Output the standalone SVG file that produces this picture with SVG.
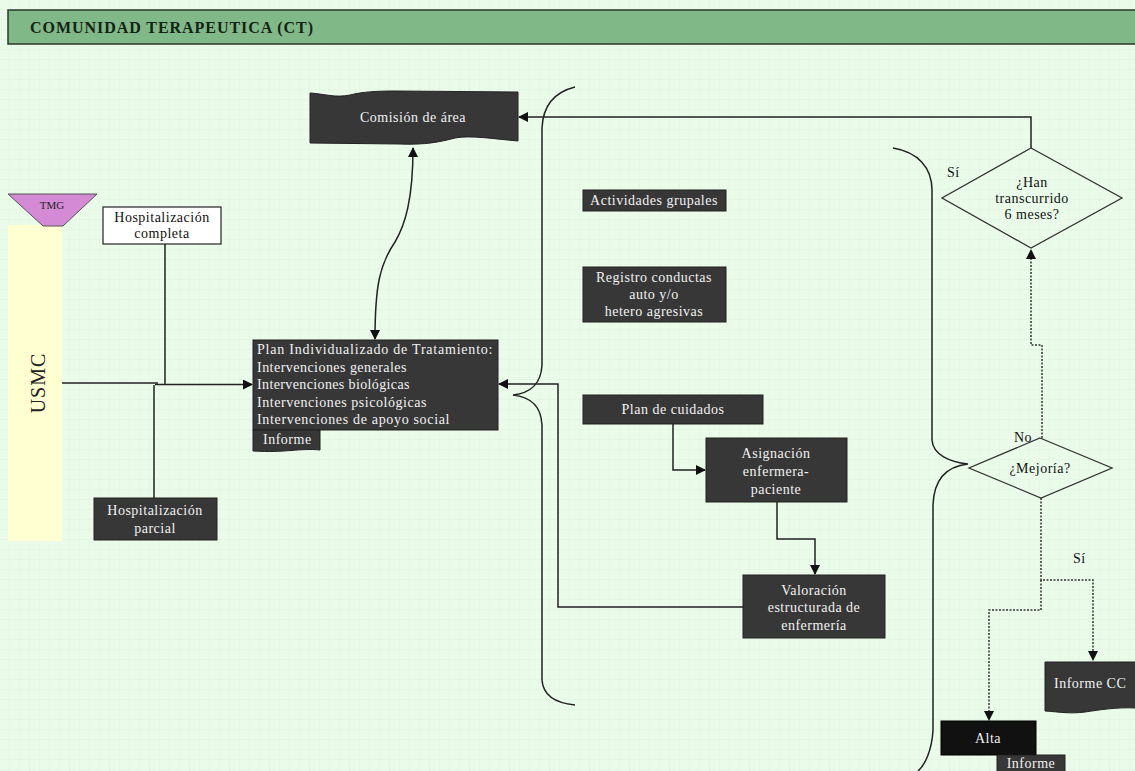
<svg xmlns="http://www.w3.org/2000/svg" width="1135" height="771" viewBox="0 0 1135 771">
<defs>
<pattern id="grid" width="10" height="10" patternUnits="userSpaceOnUse">
<rect width="10" height="10" fill="#eafbea"/>
<path d="M10 0V10M0 10H10" stroke="#d8ecd8" stroke-width="1" stroke-dasharray="1 1"/>
</pattern>
<marker id="ah" viewBox="0 0 10 10" refX="9" refY="5" markerWidth="10" markerHeight="10" markerUnits="userSpaceOnUse" orient="auto-start-reverse">
<path d="M0 0L10 5L0 10Z" fill="#111"/>
</marker>
<style>
.t{font-family:"Liberation Serif",serif;font-size:14px;letter-spacing:0.5px;fill:#111}
.w{font-family:"Liberation Serif",serif;font-size:14px;letter-spacing:0.5px;fill:#f2f2f2}
.box{fill:#373737;stroke:#222;stroke-width:1}
.ln{fill:none;stroke:#222;stroke-width:1.5}
.dt{fill:none;stroke:#333;stroke-width:1.5;stroke-dasharray:2 1.5}
</style>
</defs>
<rect width="1135" height="771" fill="url(#grid)"/>
<g id="header">
<rect x="8" y="10" width="1130" height="34" fill="#80b888" stroke="#2a3a2a" stroke-width="1.5"/>
<text x="30" y="33" font-family="Liberation Serif,serif" font-size="16" font-weight="bold" fill="#142414" textLength="283">COMUNIDAD TERAPEUTICA (CT)</text>
</g>
<g id="usmc">
<rect x="8" y="225" width="54" height="316" fill="#ffffd2"/>
<text transform="translate(45,383) rotate(-90)" text-anchor="middle" font-family="Liberation Serif,serif" font-size="20" letter-spacing="1" fill="#222">USMC</text>
</g>
<g id="tmg">
<path d="M8 194H97L63 226H43Z" fill="#d48ad4" stroke="#555" stroke-width="1"/>
<text x="52" y="209" text-anchor="middle" font-family="Liberation Serif,serif" font-size="11" fill="#222">TMG</text>
</g>
<g id="connectors">
<path class="ln" d="M62 383H158"/>
<path class="ln" d="M155 384.5H252" stroke-width="2.5" marker-end="url(#ah)"/>
<path class="ln" d="M165 244V384"/>
<path class="ln" d="M154 385V498"/>
<path class="ln" d="M413 148C413 200 405 225 395 242C380 264 375 285 375 339" marker-start="url(#ah)" marker-end="url(#ah)"/>
<path class="ln" d="M743 607H558V384H499" marker-end="url(#ah)"/>
<path class="ln" d="M1031 148V117H519" marker-end="url(#ah)"/>
<path class="ln" d="M673 424V470H705" marker-end="url(#ah)"/>
<path class="ln" d="M777 502V539H815V574" marker-end="url(#ah)"/>
<path class="dt" d="M1042 438V345H1031V250" marker-end="url(#ah)"/>
<path class="dt" d="M1041 498V580H1093V660" marker-end="url(#ah)"/>
<path class="dt" d="M1041 580V610H989V720" marker-end="url(#ah)"/>
<path class="ln" d="M575 87C555 92 543 105 542 128L542 365C541 385 530 393 513 395C530 397 541 405 542 425L542 680C543 695 555 703 575 705"/>
<path class="ln" d="M893 148C918 152 932 168 932 190L932 440C933 455 950 462 968 464C950 466 934 475 933 505L933 730C932 750 925 765 918 771"/>
</g>
<g id="hosp-completa">
<rect x="103" y="207" width="118" height="37" fill="#fff" stroke="#222" stroke-width="1.2"/>
<text class="t" x="162" y="222" text-anchor="middle">Hospitalización</text>
<text class="t" x="162" y="238" text-anchor="middle">completa</text>
</g>
<g id="hosp-parcial">
<rect class="box" x="94" y="498" width="123" height="42"/>
<text class="w" x="155" y="515" text-anchor="middle">Hospitalización</text>
<text class="w" x="155" y="533" text-anchor="middle">parcial</text>
</g>
<g id="comision">
<path class="box" d="M310 93C325 94 335 98 350 95C362 92 375 91 395 91L518 92L518 141C495 139 470 135 455 138C440 142 425 145 400 144L310 143Z"/>
<text class="w" x="413" y="122" text-anchor="middle">Comisión de área</text>
</g>
<g id="plan">
<rect class="box" x="253" y="340" width="245" height="90"/>
<path class="box" d="M253 430H320V450C300 448 285 453 253 451Z"/>
<text class="w" x="257" y="354" textLength="236" letter-spacing="0">Plan Individualizado de Tratamiento:</text>
<text class="w" x="257" y="372" textLength="150" letter-spacing="0">Intervenciones generales</text>
<text class="w" x="257" y="389" textLength="153" letter-spacing="0">Intervenciones biológicas</text>
<text class="w" x="257" y="407" textLength="170" letter-spacing="0">Intervenciones psicológicas</text>
<text class="w" x="257" y="424" textLength="193" letter-spacing="0">Intervenciones de apoyo social</text>
<text class="w" x="263" y="444" font-size="12" letter-spacing="0">Informe</text>
</g>
<g id="actividades">
<rect class="box" x="583" y="190" width="143" height="21"/>
<text class="w" x="654" y="205" text-anchor="middle">Actividades grupales</text>
</g>
<g id="registro">
<rect class="box" x="583" y="267" width="143" height="55"/>
<text class="w" x="654" y="282" text-anchor="middle">Registro conductas</text>
<text class="w" x="654" y="299" text-anchor="middle">auto y/o</text>
<text class="w" x="654" y="316" text-anchor="middle">hetero agresivas</text>
</g>
<g id="plan-cuidados">
<rect class="box" x="583" y="395" width="180" height="29"/>
<text class="w" x="673" y="414" text-anchor="middle">Plan de cuidados</text>
</g>
<g id="asignacion">
<rect class="box" x="706" y="438" width="141" height="64"/>
<text class="w" x="776" y="458" text-anchor="middle">Asignación</text>
<text class="w" x="776" y="476" text-anchor="middle">enfermera-</text>
<text class="w" x="776" y="494" text-anchor="middle">paciente</text>
</g>
<g id="valoracion">
<rect class="box" x="743" y="575" width="142" height="63"/>
<text class="w" x="814" y="595" text-anchor="middle">Valoración</text>
<text class="w" x="814" y="612" text-anchor="middle">estructurada de</text>
<text class="w" x="814" y="630" text-anchor="middle">enfermería</text>
</g>
<g id="transcurrido">
<path d="M1031 148L1122 198L1031 248L942 198Z" fill="none" stroke="#333" stroke-width="1.3"/>
<text class="t" x="1032" y="187" text-anchor="middle" letter-spacing="0">¿Han</text>
<text class="t" x="1032" y="203" text-anchor="middle" letter-spacing="0">transcurrido</text>
<text class="t" x="1032" y="219" text-anchor="middle" letter-spacing="0">6 meses?</text>
<text class="t" x="947" y="177">Sí</text>
</g>
<g id="mejoria">
<path d="M1040 438L1112 468L1041 498L969 468Z" fill="none" stroke="#333" stroke-width="1.3"/>
<text class="t" x="1040" y="473" text-anchor="middle" letter-spacing="0">¿Mejoría?</text>
<text class="t" x="1014" y="442">No</text>
<text class="t" x="1073" y="563">Sí</text>
</g>
<g id="informe-cc">
<path class="box" d="M1045 662H1136V708C1115 707 1100 710 1085 712C1070 714 1060 712 1045 711Z"/>
<text class="w" x="1054" y="688">Informe CC</text>
</g>
<g id="alta">
<rect x="941" y="721" width="95" height="34" fill="#111" stroke="#000"/>
<text class="w" x="988" y="743" text-anchor="middle">Alta</text>
<rect class="box" x="997" y="755" width="68" height="17"/>
<text class="w" x="1031" y="768" text-anchor="middle" font-size="12" letter-spacing="0">Informe</text>
</g>
</svg>
